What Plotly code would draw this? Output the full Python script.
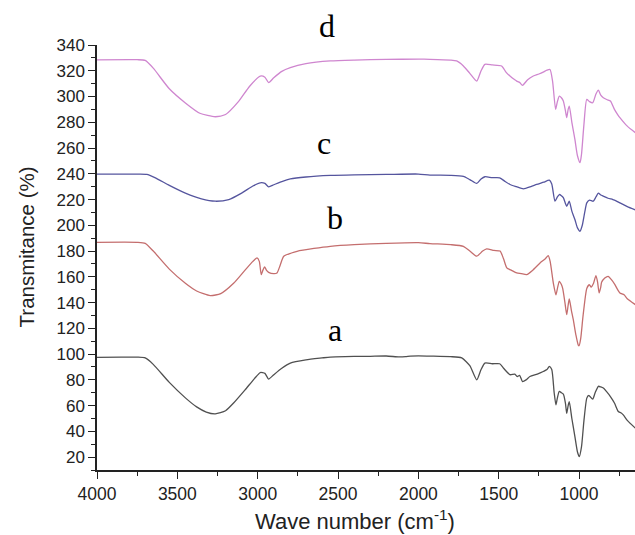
import plotly.graph_objects as go

# ---- data ----
wn_a = [4000, 3850, 3750, 3700, 3650, 3550, 3450, 3380, 3320, 3264, 3200, 3150, 3080, 3020, 2984, 2955, 2932, 2900, 2850, 2797, 2700, 2600, 2548, 2400, 2300, 2200, 2120, 2080, 2050, 2000, 1928, 1800, 1730, 1680, 1637, 1610, 1586, 1540, 1494, 1470, 1430, 1400, 1385, 1370, 1352, 1330, 1306, 1260, 1223, 1200, 1185, 1170, 1155, 1144, 1135, 1123, 1110, 1098, 1085, 1077, 1068, 1061, 1045, 1026, 1010, 999, 985, 970, 952, 940, 932, 915, 900, 880, 865, 849, 830, 805, 780, 756, 740, 725, 700, 650]
t_a = [97.5, 97.6, 97.6, 97.0, 92, 78, 66, 59, 55, 53.6, 56, 62, 72, 81, 85.7, 85, 80.6, 84, 89, 93, 95.5, 97, 97.7, 98.2, 98.3, 98.5, 97.8, 98.0, 98.4, 98.6, 98.4, 98.0, 97, 91, 80, 88, 93, 92.5, 92.5, 89, 84, 84.5, 82.6, 83.5, 78.7, 80, 82.6, 84.5, 86.5, 88, 90.4, 88, 70, 60.6, 66, 71, 70, 69, 62, 54, 60, 63, 50, 36, 24, 20.4, 28, 48, 65.8, 68, 67, 65, 70, 75, 74.5, 73.6, 71, 67, 62, 55.4, 54.5, 52.8, 48.5, 42.5]

wn_b = [4000, 3750, 3700, 3650, 3550, 3450, 3380, 3295, 3230, 3150, 3080, 3030, 3004, 2990, 2978, 2968, 2957, 2945, 2932, 2900, 2880, 2860, 2838, 2790, 2755, 2650, 2548, 2400, 2200, 2000, 1928, 1800, 1720, 1680, 1637, 1600, 1575, 1530, 1492, 1470, 1450, 1420, 1388, 1360, 1326, 1290, 1243, 1210, 1192, 1180, 1160, 1144, 1133, 1123, 1110, 1102, 1088, 1077, 1068, 1061, 1048, 1036, 1020, 1005, 1000, 990, 975, 952, 936, 925, 910, 895, 885, 875, 865, 860, 840, 819, 800, 777, 760, 746, 720, 700, 650]
t_b = [186.8, 186.8, 186, 180, 166, 155, 149, 145.4, 147, 155, 165, 172, 174.7, 172, 161.7, 165, 167.7, 165, 163.5, 162.5, 163, 169, 176, 178.5, 179.8, 182, 183.7, 185, 186, 186.5, 185.8, 185, 183.7, 180, 176, 180, 181.7, 180.5, 180, 174, 167, 165, 163, 162.5, 161.7, 165, 170.8, 174, 176.5, 172, 155, 146, 152, 156.5, 154, 151, 140, 130.6, 138, 142.8, 134, 126.7, 115, 107, 106.5, 112, 130, 151, 153.9, 152, 155, 161, 156, 147.5, 152, 155.7, 159, 160.4, 158, 154, 150, 147.5, 146, 143, 138.4]

wn_c = [4000, 3750, 3690, 3640, 3550, 3450, 3350, 3264, 3180, 3100, 3030, 2984, 2955, 2932, 2900, 2850, 2797, 2700, 2548, 2400, 2200, 2000, 1928, 1800, 1720, 1680, 1637, 1610, 1586, 1540, 1494, 1460, 1430, 1390, 1347, 1300, 1264, 1220, 1185, 1170, 1150, 1135, 1123, 1110, 1098, 1085, 1077, 1068, 1061, 1045, 1026, 1010, 994, 980, 965, 952, 935, 912, 895, 880, 865, 849, 820, 790, 770, 746, 700, 650]
t_c = [239.7, 239.7, 239.5, 237, 231, 225, 220.5, 218.7, 220, 225, 230.5, 233, 232.5, 229.9, 231.5, 234, 236, 237.5, 238.7, 239.2, 239.5, 239.8, 239, 238.8, 238, 235.5, 232.5, 236, 237.7, 237, 236.9, 234, 231.7, 230, 228.3, 230, 231.7, 233.5, 235, 232, 218.7, 222, 223.9, 223, 221.5, 217, 214.8, 217, 218.7, 211, 204.5, 198, 195.4, 200, 210, 217.4, 219.5, 218.7, 222, 225, 223.5, 222.6, 221, 220, 219, 217.4, 214.5, 212]

wn_d = [4000, 3750, 3700, 3650, 3550, 3450, 3360, 3264, 3200, 3120, 3050, 2984, 2955, 2932, 2900, 2850, 2797, 2700, 2548, 2400, 2200, 2000, 1928, 1800, 1762, 1720, 1680, 1637, 1610, 1586, 1540, 1482, 1455, 1430, 1400, 1388, 1370, 1352, 1320, 1285, 1250, 1223, 1200, 1181, 1165, 1146, 1135, 1123, 1110, 1098, 1085, 1077, 1068, 1061, 1045, 1026, 1010, 994, 985, 970, 952, 935, 915, 895, 880, 865, 849, 825, 805, 780, 760, 746, 700, 650]
t_d = [328.5, 328.6, 328, 322, 306, 295, 287, 284.3, 286, 296, 308, 315.9, 315, 310.8, 314.5, 319.5, 322.4, 325.5, 327.6, 328.3, 328.8, 329, 328.9, 328.3, 327.6, 323.7, 318, 312, 320, 325, 324.5, 323.7, 319, 315.9, 313, 312, 311, 308.7, 313, 315.9, 317.5, 319, 320.5, 321, 312, 290, 296, 300.3, 299, 296.5, 289, 283.6, 290, 292.6, 280, 266.7, 254, 248.6, 255, 278, 297.8, 296, 295.2, 302, 305, 301, 299, 297.5, 296.5, 290, 286, 283.6, 277, 271.9]

series_names = ["a", "b", "c", "d"]
series_colors = ["#505050", "#c46e6e", "#55559e", "#cf86cf"]
label_pos_x = [2519, 2519, 2587, 2569]
label_pos_y = [119, 206, 263.6, 354.5]

x_tickvals = [4000, 3500, 3000, 2500, 2000, 1500, 1000]
y_tickvals = [20, 40, 60, 80, 100, 120, 140, 160, 180, 200, 220, 240, 260, 280, 300, 320, 340]
x_range = [4000, 652]
y_range = [10, 340]

fig = go.Figure()
for wn, t, name, col in zip([wn_a, wn_b, wn_c, wn_d], [t_a, t_b, t_c, t_d], series_names, series_colors):
    fig.add_trace(go.Scatter(x=wn, y=t, mode="lines", name=name,
                             line=dict(color=col, width=1.3, shape="spline", smoothing=0.6),
                             showlegend=False))

# curve labels: x in data units, y converted to paper so the top one may sit above the plot
for name, lx, ly in zip(series_names, label_pos_x, label_pos_y):
    fig.add_annotation(x=lx, y=(ly - y_range[0]) / (y_range[1] - y_range[0]),
                       xref="x", yref="paper", text=name, showarrow=False,
                       xanchor="center", yanchor="middle",
                       font=dict(family="Liberation Serif, Times New Roman, serif", size=32, color="black"))

sans = "Liberation Sans, Arial, sans-serif"
# axis titles
fig.add_annotation(x=0.4796, y=-0.118, xref="paper", yref="paper", text="Wave number (cm<sup>-1</sup>)",
                   showarrow=False, xanchor="center", yanchor="middle",
                   font=dict(family=sans, size=22, color="#222"))
fig.add_annotation(x=-0.132, y=0.526, xref="paper", yref="paper", text="Transmitance (%)",
                   showarrow=False, xanchor="center", yanchor="middle", textangle=-90,
                   font=dict(family=sans, size=20.5, color="#222"))

fig.update_layout(
    width=635, height=535,
    margin=dict(l=97, r=0, t=45, b=65),
    plot_bgcolor="white", paper_bgcolor="white",
    font=dict(family=sans, color="#222"),
    xaxis=dict(range=x_range, tickvals=x_tickvals, ticks="outside", ticklen=7, tickwidth=1.3,
               tickcolor="#222", showline=True, linecolor="#222", linewidth=1.5, showgrid=False,
               zeroline=False, tickfont=dict(size=17.5), automargin=False,
               minor=dict(dtick=250, tick0=0, ticks="outside", ticklen=4, tickwidth=1.2, tickcolor="#222")),
    yaxis=dict(range=y_range, tickvals=y_tickvals, ticks="outside", ticklen=7, tickwidth=1.3,
               tickcolor="#222", showline=True, linecolor="#222", linewidth=1.5, showgrid=False,
               zeroline=False, tickfont=dict(size=17), automargin=False,
               minor=dict(dtick=10, tick0=0, ticks="outside", ticklen=4, tickwidth=1.2, tickcolor="#222")),
)

# remove the default page margin so the figure fills the window exactly
fig.write_html("out.html", config={"displayModeBar": False},
               post_script="document.body.style.margin='0';document.body.style.overflow='hidden';")
